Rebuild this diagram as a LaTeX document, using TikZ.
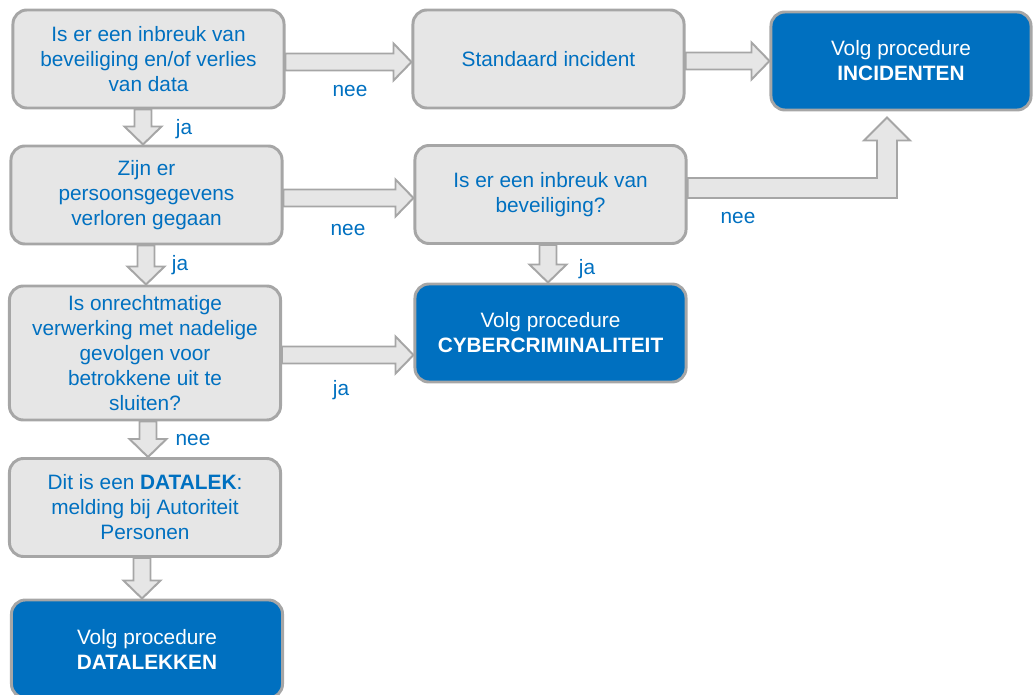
\documentclass[tikz,border=0pt]{standalone}
\usepackage{fontspec}
\setmainfont{Liberation Sans}
\usetikzlibrary{calc}
\definecolor{vakgrijs}{HTML}{E6E6E6}
\definecolor{randgrijs}{HTML}{A6A6A6}
\definecolor{procblauw}{HTML}{0070C0}
\definecolor{tekstblauw}{HTML}{0070C0}
\newcommand\tekst{\fontsize{14.8}{17.8}\selectfont}
% block arrow sizes (in px units of the picture)
\newcommand\schacht{8.5}
\newcommand\kopb{18.5}
\newcommand\kopl{18}
\newcommand\pijlrechts[2]{%
  \filldraw[blok] ($(#1)+(0,-\schacht)$) -- ($(#1 -| #2)+(-\kopl,-\schacht)$)
    -- ($(#1 -| #2)+(-\kopl,-\kopb)$) -- (#1 -| #2)
    -- ($(#1 -| #2)+(-\kopl,\kopb)$) -- ($(#1 -| #2)+(-\kopl,\schacht)$)
    -- ($(#1)+(0,\schacht)$) -- cycle;}
\newcommand\pijlomlaag[2]{%
  \filldraw[blok] ($(#1)+(-\schacht,0)$) -- ($(#1 |- #2)+(-\schacht,-\kopl)$)
    -- ($(#1 |- #2)+(-\kopb,-\kopl)$) -- (#1 |- #2)
    -- ($(#1 |- #2)+(\kopb,-\kopl)$) -- ($(#1 |- #2)+(\schacht,-\kopl)$)
    -- ($(#1)+(\schacht,0)$) -- cycle;}
\tikzset{
  vraag/.style={draw=randgrijs, fill=vakgrijs, line width=2.1pt, rounded corners=0.35cm,
    minimum width=6.775cm, minimum height=2.45cm, inner sep=0pt, align=center,
    text=tekstblauw, font=\tekst},
  proc/.style={vraag, fill=procblauw, text=white},
  blok/.style={draw=randgrijs, fill=vakgrijs, line width=1.4pt},
  lab/.style={text=tekstblauw, font=\tekst, inner sep=0pt}
}

\begin{document}
\begin{tikzpicture}[x=0.025cm,y=-0.025cm]
  \clip (0,0) rectangle (1033,695);
  % boxes
  \node[vraag] (inbreuk) at (148.5,59) {Is er een inbreuk van\\beveiliging en/of verlies\\van data};
  \node[vraag] (standaard) at (548.5,59) {Standaard incident};
  \node[proc, minimum width=6.5cm] (incidenten) at (901,61) {Volg procedure\\\textbf{INCIDENTEN}};
  \node[vraag] (persoon) at (146.5,195) {Zijn er\\persoonsgegevens\\verloren gegaan};
  \node[vraag] (beveil) at (550.5,194.5) {Is er een inbreuk van\\beveiliging?};
  \node[vraag, minimum height=3.35cm] (onrecht) at (145,353) {Is onrechtmatige\\verwerking met nadelige\\gevolgen voor\\betrokkene uit te\\sluiten?};
  \node[proc] (cyber) at (550.5,333) {Volg procedure\\\textbf{CYBERCRIMINALITEIT}};
  \node[vraag] (datalek) at (145,507.5) {Dit is een \textbf{DATALEK}:\\melding bij Autoriteit\\Personen};
  \node[proc] (datalekken) at (147,649) {Volg procedure\\\textbf{DATALEKKEN}};

  % start points of the arrows
  \coordinate (s1) at ($(inbreuk.east)+(0,3)$);
  \coordinate (s2) at ($(standaard.east)+(0,2)$);
  \coordinate (s3) at ($(persoon.east)+(0,3)$);
  \coordinate (s4) at ($(onrecht.east)+(0,2)$);
  \coordinate (s5) at ($(inbreuk.south)+(-5.5,0)$);
  \coordinate (s6) at ($(persoon.south)+(-0.5,0)$);
  \coordinate (s7) at ($(onrecht.south)+(3,0)$);
  \coordinate (s8) at ($(datalek.south)+(-3,0)$);
  \coordinate (s9) at ($(beveil.south)+(-2.5,0)$);

  \pijlrechts{s1}{standaard.west}
  \pijlrechts{s2}{incidenten.west}
  \pijlrechts{s3}{beveil.west}
  \pijlrechts{s4}{cyber.west}
  \pijlomlaag{s5}{persoon.north}
  \pijlomlaag{s6}{onrecht.north}
  \pijlomlaag{s7}{datalek.north}
  \pijlomlaag{s8}{datalekken.north}
  \pijlomlaag{s9}{cyber.north}

  % elbow arrow to INCIDENTEN
  \coordinate (e0) at ($(beveil.east)+(0,-6.5)$);
  \coordinate (e1) at ($(incidenten.south)+(-14,6)$);
  \filldraw[blok] ($(e0)+(0,-10)$) -- ($(e0 -| e1)+(-10,-10)$) -- ($(e1)+(-10,23)$)
    -- ($(e1)+(-23,23)$) -- (e1) -- ($(e1)+(23,23)$) -- ($(e1)+(10,23)$)
    -- ($(e0 -| e1)+(10,10)$) -- ($(e0)+(0,10)$) -- cycle;

  % labels
  \node[lab] (nee1) at (350,91) {nee};
  \node[lab] (ja1) at (184,129) {ja};
  \node[lab] (nee2) at (348,230) {nee};
  \node[lab] (nee3) at (738,218) {nee};
  \node[lab] (ja2) at (180,265) {ja};
  \node[lab] (ja3) at (587,269) {ja};
  \node[lab] (ja4) at (341,390) {ja};
  \node[lab] (nee4) at (193,440) {nee};
\end{tikzpicture}
\end{document}
